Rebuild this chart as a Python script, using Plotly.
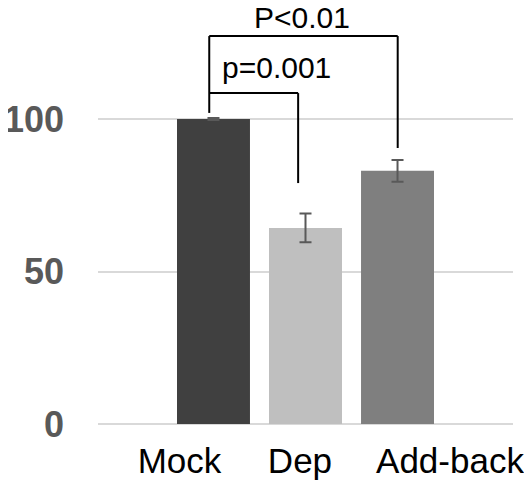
import plotly.graph_objects as go

categories = ["Mock", "Dep", "Add-back"]
values = [100, 64.3, 83.0]
errors = [0.3, 4.7, 3.6]
bar_colors = ["#404040", "#bfbfbf", "#7f7f7f"]
label_positions = [-0.37, 0.94, 2.57]
y_ticks = [0, 50, 100]

x_pos = list(range(len(categories)))

fig = go.Figure()
fig.add_trace(go.Bar(
    x=x_pos, y=values,
    marker=dict(color=bar_colors, line=dict(width=0)),
    error_y=dict(type="data", array=errors, visible=True,
                 color="#595959", thickness=2, width=6),
    width=0.793,
))

line = dict(color="black", width=2)
# outer bracket Mock vs Add-back
fig.add_shape(type="line", x0=-0.046, x1=-0.046, y0=102, y1=127.2, line=line)
fig.add_shape(type="line", x0=-0.046, x1=2.002, y0=127.2, y1=127.2, line=line)
fig.add_shape(type="line", x0=2.002, x1=2.002, y0=127.2, y1=90.5, line=line)
# inner bracket Mock vs Dep
fig.add_shape(type="line", x0=-0.046, x1=0.92, y0=108.5, y1=108.5, line=line)
fig.add_shape(type="line", x0=0.92, x1=0.92, y0=108.5, y1=79, line=line)

fig.add_annotation(x=0.96, y=133.2, text="P<0.01", showarrow=False, borderpad=0,
                   font=dict(size=30, color="black", family="Liberation Sans, Arial"),
                   yanchor="middle", xanchor="center")
fig.add_annotation(x=0.68, y=117, text="p=0.001", showarrow=False, borderpad=0,
                   font=dict(size=30, color="black", family="Liberation Sans, Arial"),
                   yanchor="middle", xanchor="center")

fig.update_layout(
    width=524, height=473,
    margin=dict(l=90, r=19, t=0, b=57),
    plot_bgcolor="white", paper_bgcolor="white",
    showlegend=False,
    font=dict(family="Liberation Sans, Arial"),
    xaxis=dict(range=[-1.255, 3.255], tickmode="array", tickvals=label_positions,
               ticktext=categories, showgrid=False, zeroline=False, showline=False,
               automargin=False, tickangle=0, ticklabelstandoff=13,
               ticks="", tickfont=dict(size=35, color="black", family="Liberation Sans, Arial")),
    yaxis=dict(range=[0, 136.4], tickmode="array", tickvals=y_ticks,
               showgrid=True, gridcolor="#d9d9d9", gridwidth=2,
               zeroline=True, zerolinecolor="#d9d9d9", zerolinewidth=2,
               automargin=False,
               showline=False, ticks="", ticklabelstandoff=33,
               tickfont=dict(size=36, color="#595959", family="Liberation Sans, Arial Black, Arial",
                             weight="bold")),
)

fig.write_html("out.html")
